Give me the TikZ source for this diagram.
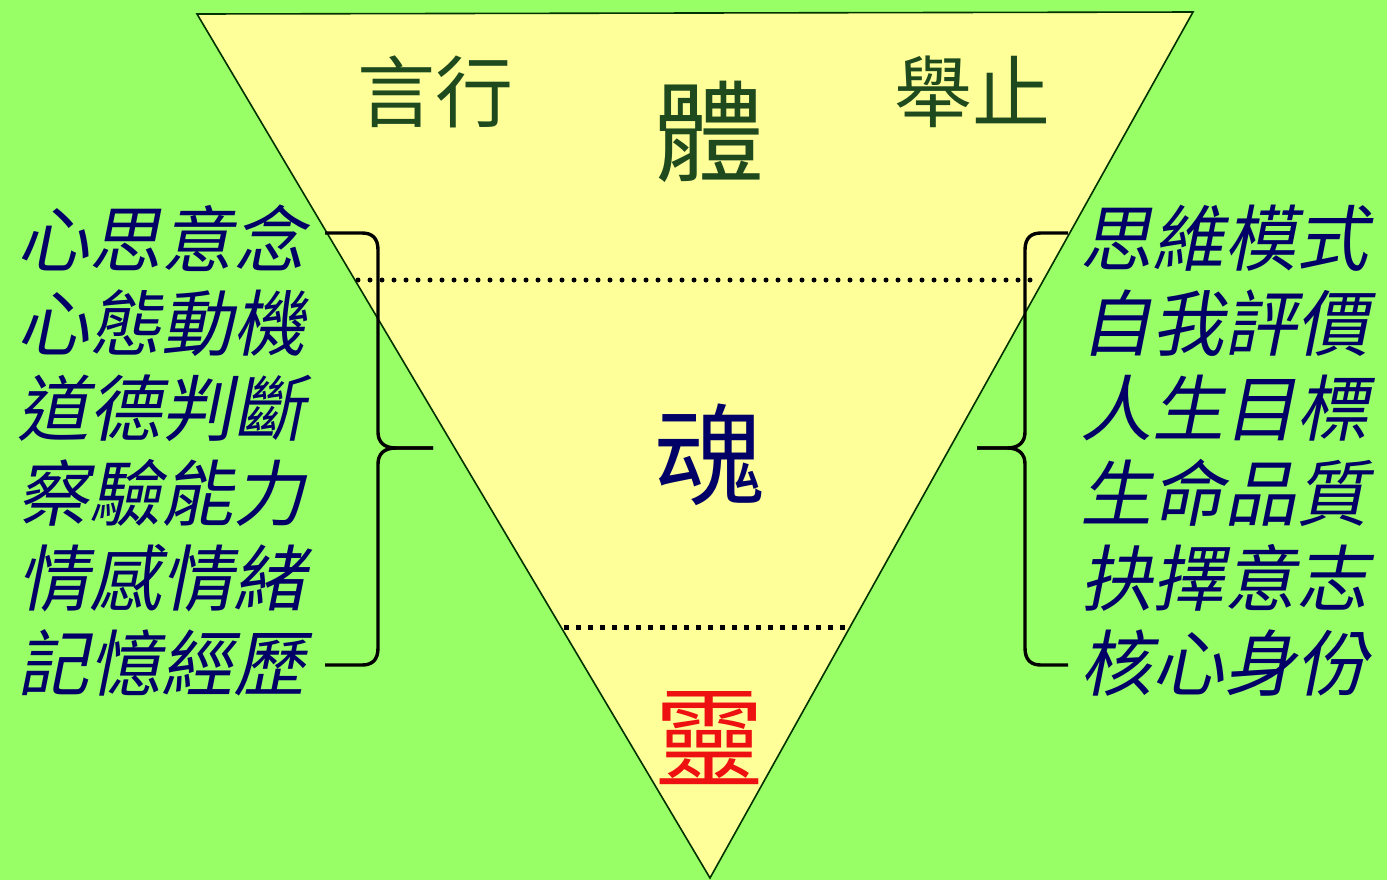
\documentclass[tikz,border=0pt]{standalone}
\usepackage{fontspec}
\newfontfamily\cjk{Noto Sans CJK TC}
\newfontfamily\cjkit{Noto Sans CJK TC}[FakeSlant=0.2]
\definecolor{bggreen}{HTML}{99FF66}
\definecolor{triyellow}{HTML}{FFFF99}
\definecolor{navy}{HTML}{000066}
\definecolor{dkgreen}{HTML}{1E4A1E}
\definecolor{redtxt}{HTML}{EE1111}
\tikzset{
  listtxt/.style={inner sep=0pt, text=navy, font=\cjkit\fontsize{36}{36}\selectfont},
  toptxt/.style={inner sep=0pt, text=dkgreen, font=\cjk\fontsize{39}{39}\selectfont},
  bigtxt/.style={inner sep=0pt, font=\cjk\fontsize{55}{55}\selectfont},
  dotline/.style={line width=2.5pt},
  bracestyle/.style={line width=1.7pt, black, line join=round}
}
\begin{document}
\begin{tikzpicture}[x=0.5pt, y=-0.5pt]
\fill[bggreen] (0,0) rectangle (1387,880);
\useasboundingbox (0,0) rectangle (1387,880);
% triangle
\coordinate (tl) at (197,14);
\coordinate (tr) at (1193,12);
\coordinate (ap) at (710,878);
\filldraw[fill=triyellow, draw=black!80!green, line width=0.8pt] (tl) -- (tr) -- (ap) -- cycle;
% dotted lines
\coordinate (d1l) at (358,280);
\coordinate (d1r) at (1040,280);
\coordinate (d2l) at (564,627);
\coordinate (d2r) at (850,627);
\draw[dotline, line cap=round, dash pattern=on 0pt off 6pt] (d1l) -- (d1r);
\draw[dotline, dash pattern=on 2.5pt off 3.5pt] (d2l) -- (d2r);
% titles
\node[toptxt] (yanxing) at (435,92) {言行};
\node[toptxt] (juzhi) at (972,92) {舉止};
\node[bigtxt, text=dkgreen] (ti) at (709,132) {體};
\node[bigtxt, text=navy] (hun) at (709,455) {魂};
\node[bigtxt, text=redtxt] (ling) at (709,738) {靈};
% left list
\node[listtxt, anchor=east] (l1) at (306,238) {心思意念};
\node[listtxt, anchor=east] (l2) at (306,323) {心態動機};
\node[listtxt, anchor=east] (l3) at (306,408) {道德判斷};
\node[listtxt, anchor=east] (l4) at (306,493) {察驗能力};
\node[listtxt, anchor=east] (l5) at (306,578) {情感情緒};
\node[listtxt, anchor=east] (l6) at (306,663) {記憶經歷};
% right list
\node[listtxt, anchor=west] (r1) at (1080,238) {思維模式};
\node[listtxt, anchor=west] (r2) at (1080,323) {自我評價};
\node[listtxt, anchor=west] (r3) at (1080,408) {人生目標};
\node[listtxt, anchor=west] (r4) at (1080,493) {生命品質};
\node[listtxt, anchor=west] (r5) at (1080,578) {抉擇意志};
\node[listtxt, anchor=west] (r6) at (1080,663) {核心身份};
% left brace
\draw[bracestyle] (325,233) -- (362,233) .. controls (372,233) and (378,238) .. (378,250)
  -- (378,432) .. controls (378,442) and (384,448) .. (396,448) -- (433,448);
\draw[bracestyle] (433,448) -- (396,448) .. controls (384,448) and (378,454) .. (378,464)
  -- (378,648) .. controls (378,660) and (372,665) .. (362,665) -- (325,665);
% right brace
\draw[bracestyle] (1068,233) -- (1041,233) .. controls (1031,233) and (1025,238) .. (1025,250)
  -- (1025,432) .. controls (1025,442) and (1019,448) .. (1007,448) -- (977,448);
\draw[bracestyle] (977,448) -- (1007,448) .. controls (1019,448) and (1025,454) .. (1025,464)
  -- (1025,648) .. controls (1025,660) and (1031,665) .. (1041,665) -- (1068,665);
\end{tikzpicture}
\end{document}
